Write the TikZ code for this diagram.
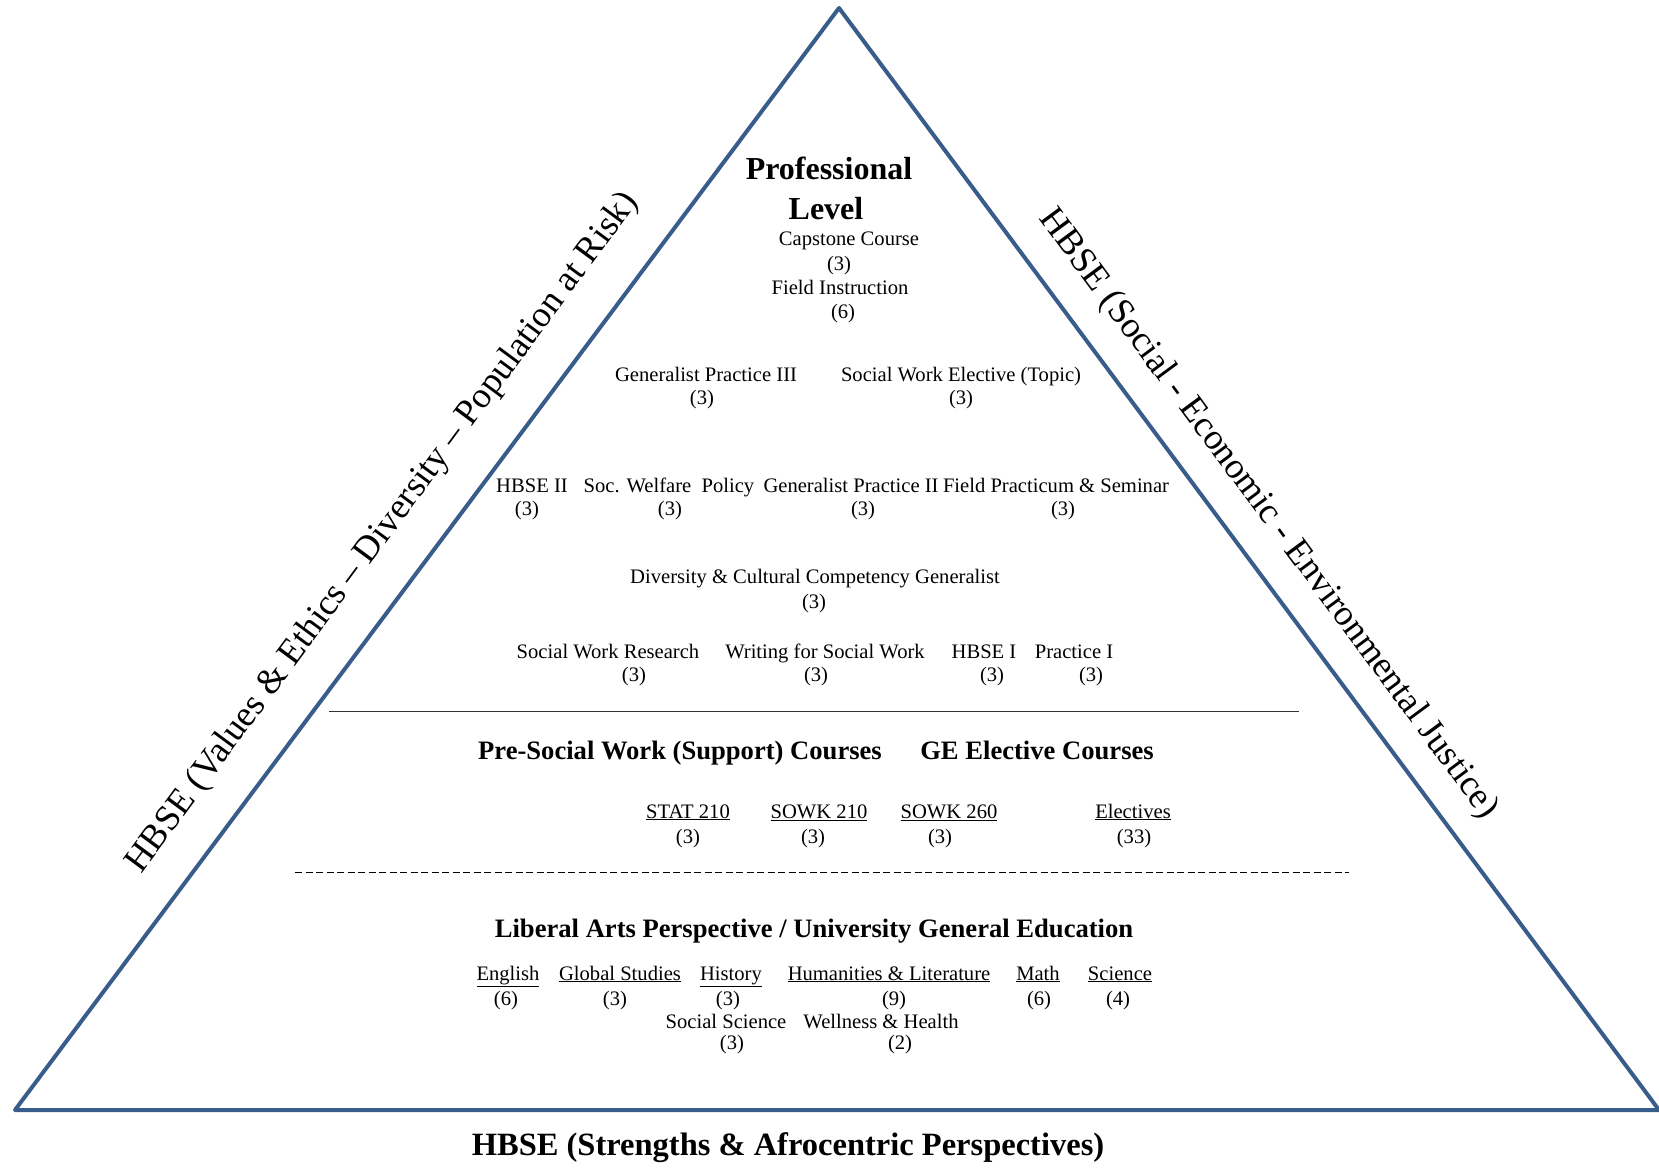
\documentclass[tikz,border=0pt]{standalone}
\usepackage{fontspec}
\setmainfont{Liberation Serif}
\definecolor{pyramid}{RGB}{56,93,138}

\begin{document}
\begin{tikzpicture}[x=1pt, y=-1pt,
        course/.style={inner sep=0pt, text height=14pt, text depth=4pt, font=\fontsize{20.6}{24}\selectfont},
        head/.style={inner sep=0pt, text height=18pt, text depth=5pt, font=\fontsize{26.6}{30}\selectfont\bfseries},
        title/.style={inner sep=0pt, text height=21pt, text depth=6pt, font=\fontsize{32}{36}\selectfont\bfseries},
        side/.style={inner sep=0pt, font=\fontsize{36.3}{42}\selectfont}]
        \useasboundingbox (0,0) rectangle (1659,1170);

        \coordinate (apex) at (839,8);
        \coordinate (bl)   at (15,1110);
        \coordinate (br)   at (1659,1110);
        \draw[pyramid, line width=4pt, line join=round] (bl)--(apex)--(br)--cycle;

        \node[side, rotate=53.5]  (values) at (383,533)  {HBSE (Values \& Ethics – Diversity – Population at Risk)};
        \node[side, rotate=-53.5] (justice) at (1268,514) {HBSE (Social - Economic - Environmental Justice)};
        \node[title, font=\fontsize{32.5}{36}\selectfont\bfseries] (strengths) at (788,1148) {HBSE (Strengths \& Afrocentric Perspectives)};

        \node[title]  (prof)     at (829,172) {Professional};
        \node[title]  (level)    at (826,212) {Level};
        \node[course] (cap)      at (849,240) {Capstone Course};
        \node[course] (cap-cr)   at (839,265) {(3)};
        \node[course] (field)    at (840,289) {Field Instruction};
        \node[course] (field-cr) at (843,313) {(6)};

        \node[course] (gp3)      at (706,376) {Generalist Practice III};
        \node[course] (gp3-cr)   at (702,399) {(3)};
        \node[course] (swe)      at (961,376) {Social Work Elective (Topic)};
        \node[course] (swe-cr)   at (961,399) {(3)};

        \node[course] (hbse2)     at (532,487)  {HBSE II};
        \node[course] (hbse2-cr)  at (527,510)  {(3)};
        \node[course] (policy)    at (669,487)  {Soc. Welfare\ \ Policy};
        \node[course] (policy-cr) at (670,510)  {(3)};
        \node[course] (gp2)       at (851,487)  {Generalist Practice II};
        \node[course] (gp2-cr)    at (863,510)  {(3)};
        \node[course] (fps)       at (1056,487) {Field Practicum \& Seminar};
        \node[course] (fps-cr)    at (1063,510) {(3)};

        \node[course] (dcc)      at (815,578) {Diversity \& Cultural Competency Generalist};
        \node[course] (dcc-cr)   at (814,603) {(3)};

        \node[course] (swr)      at (608,653)  {Social Work Research};
        \node[course] (swr-cr)   at (634,676)  {(3)};
        \node[course] (wsw)      at (825,653)  {Writing for Social Work};
        \node[course] (wsw-cr)   at (816,676)  {(3)};
        \node[course] (hbse1)    at (984,653)  {HBSE I};
        \node[course] (hbse1-cr) at (992,676)  {(3)};
        \node[course] (prac1)    at (1074,653) {Practice I};
        \node[course] (prac1-cr) at (1091,676) {(3)};

        \coordinate (solidL) at (329,711);
        \coordinate (solidR) at (1299,711);
        \draw[line width=0.8pt, black!80] (solidL)--(solidR);

        \node[head] (presw) at (680,753)  {Pre-Social Work (Support) Courses};
        \node[head] (ge)    at (1037,753) {GE Elective Courses};

        \node[course] (stat)       at (688,813)  {\underline{STAT 210}};
        \node[course] (stat-cr)    at (688,838)  {(3)};
        \node[course] (sowk210)    at (819,813)  {\underline{SOWK 210}};
        \node[course] (sowk210-cr) at (813,838)  {(3)};
        \node[course] (sowk260)    at (949,813)  {\underline{SOWK 260}};
        \node[course] (sowk260-cr) at (940,838)  {(3)};
        \node[course] (elect)      at (1133,813) {\underline{Electives}};
        \node[course] (elect-cr)   at (1134,838) {(33)};

        \coordinate (dashL) at (295,872);
        \coordinate (dashR) at (1349,872);
        \draw[line width=1pt, dash pattern=on 7pt off 3.5pt] (dashL)--(dashR);

        \node[head] (liberal) at (814,931) {Liberal Arts Perspective / University General Education};

        \node[course] (english)    at (508,975)  {\underline{English}};
        \node[course] (english-cr) at (506,1000) {(6)};
        \node[course] (global)     at (620,975)  {\underline{Global Studies}};
        \node[course] (global-cr)  at (615,1000) {(3)};
        \node[course] (history)    at (731,975)  {\underline{History}};
        \node[course] (history-cr) at (728,1000) {(3)};
        \node[course] (hum)        at (889,975)  {\underline{Humanities \& Literature}};
        \node[course] (hum-cr)     at (894,1000) {(9)};
        \node[course] (math)       at (1038,975) {\underline{Math}};
        \node[course] (math-cr)    at (1039,1000) {(6)};
        \node[course] (science)    at (1120,975) {\underline{Science}};
        \node[course] (science-cr) at (1118,1000) {(4)};
        \node[course] (socsci)     at (726,1023) {Social Science};
        \node[course] (socsci-cr)  at (732,1044) {(3)};
        \node[course] (well)       at (881,1023) {Wellness \& Health};
        \node[course] (well-cr)    at (900,1044) {(2)};
\end{tikzpicture}
\end{document}
